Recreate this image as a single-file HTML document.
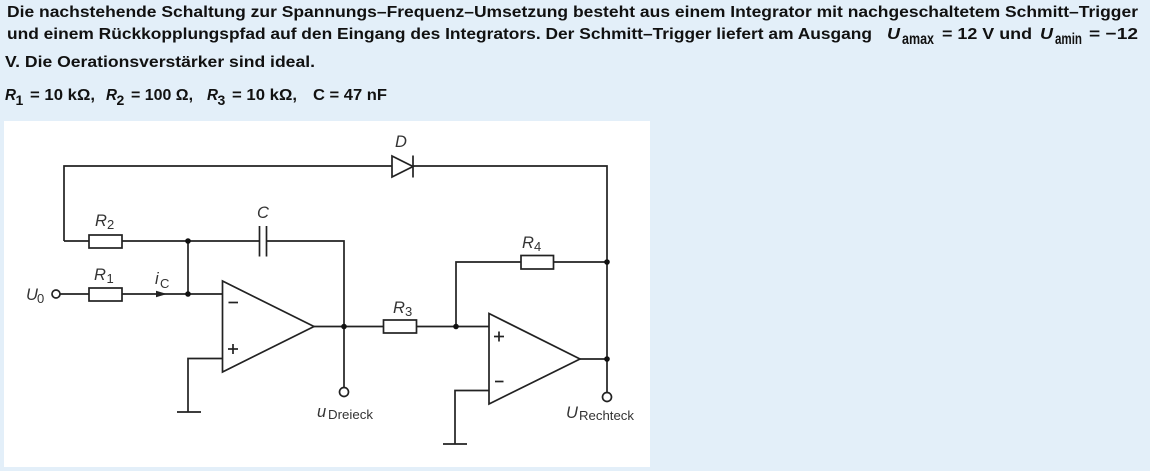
<!DOCTYPE html>
<html><head><meta charset="utf-8"><style>
html,body{margin:0;padding:0;background:#e3eff9;}
svg{display:block;}
.t{font-family:"Liberation Sans",sans-serif;font-weight:bold;font-size:16px;fill:#111;}
.l{font-family:"Liberation Sans",sans-serif;font-size:16.5px;fill:#333;font-style:italic;}
.s{font-family:"Liberation Sans",sans-serif;font-size:13px;fill:#333;}
</style></head><body>
<svg width="1150" height="471" viewBox="0 0 1150 471" xmlns="http://www.w3.org/2000/svg">
<rect width="1150" height="471" fill="#e3eff9"/>
<rect x="4" y="121" width="646" height="346" fill="#ffffff"/>

<!-- paragraph text -->
<text class="t" x="7" y="17" textLength="1131" lengthAdjust="spacingAndGlyphs">Die nachstehende Schaltung zur Spannungs–Frequenz–Umsetzung besteht aus einem Integrator mit nachgeschaltetem Schmitt–Trigger</text>
<text class="t" x="7" y="39" textLength="865" lengthAdjust="spacingAndGlyphs">und einem Rückkopplungspfad auf den Eingang des Integrators. Der Schmitt–Trigger liefert am Ausgang</text>
<text class="t" x="887" y="39" font-style="italic" font-size="18" textLength="13" lengthAdjust="spacingAndGlyphs">U</text>
<text class="t" x="902" y="44" font-size="13" textLength="32" lengthAdjust="spacingAndGlyphs">amax</text>
<text class="t" x="942" y="39" textLength="90" lengthAdjust="spacingAndGlyphs">= 12 V und</text>
<text class="t" x="1040" y="39" font-style="italic" font-size="18" textLength="13" lengthAdjust="spacingAndGlyphs">U</text>
<text class="t" x="1055" y="44" font-size="13" textLength="27" lengthAdjust="spacingAndGlyphs">amin</text>
<text class="t" x="1089" y="39" textLength="49" lengthAdjust="spacingAndGlyphs">= −12</text>
<text class="t" x="5" y="67" textLength="310" lengthAdjust="spacingAndGlyphs">V. Die Oerationsverstärker sind ideal.</text>

<g class="t" font-size="15">
<text x="5" y="100" font-style="italic" textLength="11" lengthAdjust="spacingAndGlyphs">R</text>
<text x="15.5" y="105" font-size="14">1</text>
<text x="30" y="100" textLength="65" lengthAdjust="spacingAndGlyphs">= 10 kΩ,</text>
<text x="106" y="100" font-style="italic" textLength="11" lengthAdjust="spacingAndGlyphs">R</text>
<text x="116.5" y="105" font-size="14">2</text>
<text x="131" y="100" textLength="62" lengthAdjust="spacingAndGlyphs">= 100 Ω,</text>
<text x="207" y="100" font-style="italic" textLength="11" lengthAdjust="spacingAndGlyphs">R</text>
<text x="217.5" y="105" font-size="14">3</text>
<text x="232" y="100" textLength="65" lengthAdjust="spacingAndGlyphs">= 10 kΩ,</text>
<text x="313" y="100" textLength="74" lengthAdjust="spacingAndGlyphs">C = 47 nF</text>
</g>

<!-- circuit -->
<g stroke="#222" stroke-width="1.7" fill="none" stroke-linejoin="miter">
  <polyline points="64,241 64,166 392,166"/>
  <polyline points="413,166 607,166 607,392.5"/>
  <polygon points="392,156 392,177 413,166.5"/>
  <line x1="413" y1="155.5" x2="413" y2="177.5"/>
  <line x1="64" y1="241" x2="89" y2="241"/>
  <rect x="89" y="235" width="33" height="13" fill="#fff"/>
  <line x1="122" y1="241" x2="259.5" y2="241"/>
  <line x1="259.5" y1="226" x2="259.5" y2="256.5"/>
  <line x1="266.5" y1="226" x2="266.5" y2="256.5"/>
  <polyline points="266.5,241 344,241 344,387.5"/>
  <line x1="60" y1="294" x2="89" y2="294"/>
  <rect x="89" y="288" width="33" height="13" fill="#fff"/>
  <line x1="122" y1="294" x2="222.5" y2="294"/>
  <line x1="188" y1="241" x2="188" y2="294"/>
  <polygon points="222.5,281 222.5,372 314,326.5"/>
  <line x1="314" y1="326.5" x2="344" y2="326.5"/>
  <polyline points="222.5,358.5 188,358.5 188,412"/>
  <line x1="177" y1="412" x2="201" y2="412"/>
  <line x1="228.5" y1="302.5" x2="238" y2="302.5"/>
  <line x1="228" y1="349" x2="238" y2="349"/>
  <line x1="233" y1="344" x2="233" y2="354"/>
  <line x1="344" y1="326.5" x2="383.5" y2="326.5"/>
  <rect x="383.5" y="320" width="33" height="13" fill="#fff"/>
  <line x1="416.5" y1="326.5" x2="489" y2="326.5"/>
  <polyline points="456,326.5 456,262 521,262"/>
  <rect x="521" y="255.5" width="32.5" height="13.5" fill="#fff"/>
  <line x1="553.5" y1="262" x2="607" y2="262"/>
  <polygon points="489,313.5 489,404 580,359"/>
  <line x1="580" y1="359" x2="607" y2="359"/>
  <polyline points="489,390.5 455,390.5 455,444"/>
  <line x1="443" y1="444" x2="467" y2="444"/>
  <line x1="494" y1="336.5" x2="504" y2="336.5"/>
  <line x1="499" y1="331.5" x2="499" y2="341.5"/>
  <line x1="495" y1="381.5" x2="503.5" y2="381.5"/>
  <circle cx="56" cy="294" r="4" fill="#fff"/>
  <circle cx="344" cy="392" r="4.5" fill="#fff"/>
  <circle cx="607" cy="397" r="4.5" fill="#fff"/>
</g>
<polygon points="156,290.8 167,294 156,297.2" fill="#222"/>
<g fill="#111">
  <circle cx="188" cy="241" r="2.8"/>
  <circle cx="188" cy="294" r="2.8"/>
  <circle cx="344" cy="326.5" r="2.8"/>
  <circle cx="456" cy="326.5" r="2.8"/>
  <circle cx="607" cy="262" r="2.8"/>
  <circle cx="607" cy="359" r="2.8"/>
</g>

<text class="l" x="95" y="226">R</text><text class="s" x="107" y="229">2</text>
<text class="l" x="94" y="280">R</text><text class="s" x="106.5" y="283">1</text>
<text class="l" x="257" y="218">C</text>
<text class="l" x="395" y="147">D</text>
<text class="l" x="393" y="313">R</text><text class="s" x="405" y="316">3</text>
<text class="l" x="522" y="248">R</text><text class="s" x="534" y="251">4</text>
<text class="l" x="155" y="284">i</text><text class="s" x="160" y="288">C</text>
<text class="l" x="26" y="300">U</text><text class="s" x="37" y="303">0</text>
<text class="l" x="317" y="417">u</text><text class="s" x="328" y="419" textLength="45" lengthAdjust="spacingAndGlyphs">Dreieck</text>
<text class="l" x="566" y="418">U</text><text class="s" x="579" y="420" textLength="55" lengthAdjust="spacingAndGlyphs">Rechteck</text>
</svg>
</body></html>
